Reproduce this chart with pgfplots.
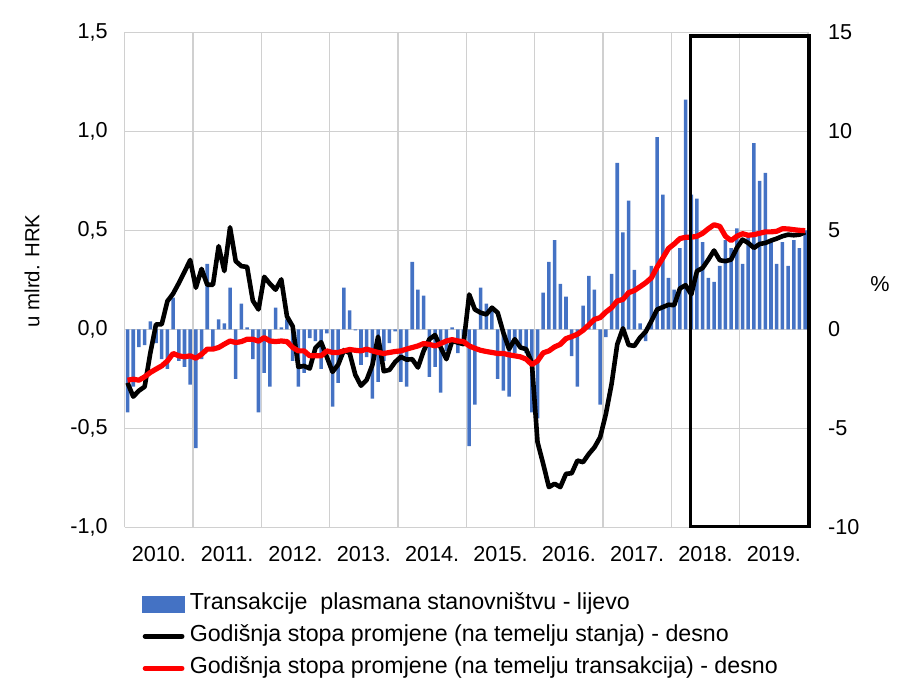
\documentclass[border=0pt]{standalone}
\usepackage{pgfplots}
\pgfplotsset{compat=1.18}
\usepackage{pgfplotstable}
\usepackage{fontspec}
\setmainfont{Liberation Sans}
\definecolor{barblue}{HTML}{4472C4}
\definecolor{gridgray}{HTML}{D0D0D0}
\definecolor{lred}{HTML}{FF0000}

\pgfplotstableread{
i bar black red
0 -0.42 -2.70 -2.57
1 -0.29 -3.40 -2.52
2 -0.09 -3.10 -2.57
3 -0.08 -2.90 -2.40
4 0.04 -1.20 -2.18
5 -0.07 0.25 -2.01
6 -0.15 0.25 -1.85
7 -0.20 1.42 -1.60
8 0.16 1.80 -1.22
9 -0.16 2.33 -1.34
10 -0.19 2.90 -1.39
11 -0.28 3.50 -1.34
12 -0.60 2.10 -1.46
13 -0.15 3.05 -1.26
14 0.33 2.25 -1.00
15 -0.09 2.25 -1.00
16 0.05 4.20 -0.92
17 0.03 2.94 -0.75
18 0.21 5.15 -0.59
19 -0.25 3.44 -0.67
20 0.13 3.19 -0.62
21 0.01 3.15 -0.50
22 -0.15 1.45 -0.50
23 -0.42 1.00 -0.60
24 -0.22 2.65 -0.42
25 -0.29 2.30 -0.59
26 0.11 2.00 -0.62
27 0.01 2.52 -0.59
28 0.05 0.65 -0.62
29 -0.16 0.15 -0.92
30 -0.29 -1.90 -1.09
31 -0.22 -1.85 -1.09
32 -0.045 -1.98 -1.34
33 -0.06 -0.94 -1.34
34 -0.20 -0.65 -1.34
35 -0.02 -1.40 -1.09
36 -0.39 -2.15 -1.17
37 -0.27 -1.78 -1.17
38 0.21 -1.05 -1.09
39 0.095 -1.20 -1.02
40 -0.005 -2.30 -1.06
41 -0.18 -2.85 -1.09
42 -0.14 -2.55 -1.00
43 -0.35 -1.80 -1.09
44 -0.265 -0.37 -1.17
45 -0.16 -2.12 -1.22
46 -0.07 -2.05 -1.17
47 -0.01 -1.65 -1.12
48 -0.265 -1.39 -1.09
49 -0.29 -1.53 -1.00
50 0.34 -1.51 -0.92
51 0.20 -1.93 -0.84
52 0.17 -1.09 -0.72
53 -0.24 -0.50 -0.76
54 -0.19 -0.29 -0.84
55 -0.32 -0.92 -0.72
56 -0.11 -1.51 -0.59
57 0.01 -0.59 -0.52
58 -0.12 -0.67 -0.59
59 -0.05 -0.75 -0.62
60 -0.59 1.76 -0.84
61 -0.38 1.00 -0.96
62 0.21 0.84 -1.06
63 0.13 0.75 -1.12
64 0.10 1.09 -1.17
65 -0.25 0.84 -1.22
66 -0.31 -0.17 -1.22
67 -0.34 -1.00 -1.29
68 -0.12 -0.50 -1.34
69 -0.09 -0.92 -1.39
70 -0.12 -1.00 -1.51
71 -0.42 -1.68 -1.78
72 -0.45 -5.70 -1.60
73 0.185 -6.80 -1.19
74 0.34 -7.97 -1.09
75 0.45 -7.80 -0.89
76 0.23 -7.97 -0.76
77 0.165 -7.30 -0.47
78 -0.135 -7.27 -0.37
79 -0.29 -6.63 -0.25
80 0.12 -6.71 -0.05
81 0.27 -6.30 0.22
82 0.20 -5.96 0.50
83 -0.38 -5.45 0.59
84 -0.04 -4.28 0.87
85 0.28 -2.77 1.09
86 0.84 -0.76 1.43
87 0.49 0.05 1.51
88 0.65 -0.79 1.85
89 0.30 -0.84 1.96
90 0.03 -0.42 2.15
91 -0.06 -0.12 2.35
92 0.32 0.42 2.60
93 0.97 1.00 3.14
94 0.68 1.12 3.60
95 0.26 1.24 4.08
96 0.20 1.22 4.31
97 0.41 2.06 4.58
98 1.16 2.23 4.65
99 0.68 1.76 4.65
100 0.66 2.94 4.70
101 0.44 3.10 4.85
102 0.26 3.52 5.08
103 0.24 3.98 5.28
104 0.32 3.49 5.20
105 0.45 3.44 4.70
106 0.41 3.52 4.48
107 0.51 4.11 4.70
108 0.33 4.53 4.83
109 0.47 4.36 4.75
110 0.94 4.11 4.78
111 0.75 4.31 4.85
112 0.79 4.36 4.92
113 0.44 4.48 4.92
114 0.33 4.58 4.95
115 0.44 4.70 5.08
116 0.32 4.78 5.07
117 0.45 4.75 5.03
118 0.41 4.78 5.00
119 0.50 4.90 4.98
}\data

\begin{document}
\begin{tikzpicture}[font=\fontsize{10.8}{13}\selectfont]
\path (-62.35pt,-79.35pt) rectangle (387.65pt,263.65pt);
\begin{axis}[
  scale only axis, width=341.65pt, height=247.5pt,
  at={(0,0)}, anchor=south west,
  xmin=-0.5, xmax=119.5, ymin=-1, ymax=1.5,
  axis line style={draw=none},
  major tick length=0pt, minor tick length=0pt,
  ytick={-1,-0.5,0,0.5,1,1.5},
  yticklabels={{-1,0},{-0,5},{0,0},{0,5},{1,0},{1,5}},
  xtick={5.5,17.5,...,113.5},
  xticklabels={2010.,2011.,2012.,2013.,2014.,2015.,2016.,2017.,2018.,2019.},
  minor xtick={-0.5,11.5,...,119.5},
  xminorgrids=true, ymajorgrids=true,
  grid style={gridgray, line width=0.8pt},
  minor grid style={gridgray, line width=0.8pt},
  yticklabel style={xshift=-5pt},
  xticklabel style={yshift=-6pt},
  ylabel={u mlrd. HRK},
  every axis y label/.style={at={(axis description cs:-0.1357,0.518)}, anchor=center, rotate=90, font=\fontsize{10.2}{12}\selectfont},
]
\addplot[ybar, bar width=0.62, fill=barblue, draw=none] table[x=i,y=bar]{\data};
\end{axis}
\begin{axis}[
  scale only axis, width=341.65pt, height=247.5pt,
  at={(0,0)}, anchor=south west,
  xmin=-0.5, xmax=119.5, ymin=-10, ymax=15,
  hide x axis,
  axis line style={draw=none},
  major tick length=0pt, minor tick length=0pt,
  yticklabel pos=right,
  ytick={-10,-5,0,5,10,15},
  yticklabels={-10,-5,0,5,10,15},
  yticklabel style={anchor=west, xshift=6.5pt},
  ylabel={\%},
  every axis y label/.style={at={(axis description cs:1.1054,0.492)}, anchor=center},
  clip=false,
  legend style={draw=none, fill=none, at={(axis description cs:0.0253,-0.1327)}, anchor=north west,
    inner sep=0pt, row sep=5.2pt, column sep=2.5pt, font=\fontsize{11.6}{13.5}\selectfont,
    nodes={inner sep=0pt, text height=8.3pt, text depth=2.5pt}},
  legend cell align=left,
]
\addlegendimage{legend image code/.code={\fill[barblue] (0pt,-3.9pt) rectangle (20.8pt,3.9pt);}}
\addlegendentry{Transakcije\ \ plasmana stanovništvu - lijevo}
\addplot[black, line width=2.3pt, line join=round,
  legend image code/.code={\draw[black, line width=2.5pt, line cap=round] (1.2pt,0pt) -- (19.6pt,0pt);}]
  table[x=i,y=black]{\data};
\addlegendentry{Godišnja stopa promjene (na temelju stanja) - desno}
\addplot[lred, line width=2.6pt, line join=round,
  legend image code/.code={\draw[lred, line width=2.5pt, line cap=round] (1.2pt,0pt) -- (19.6pt,0pt);}]
  table[x=i,y=red]{\data};
\addlegendentry{Godišnja stopa promjene (na temelju transakcija) - desno}
\addplot[black, line width=1.75pt, line join=miter, forget plot]
  coordinates {(98.85,-9.97)(98.85,14.81)(119.7,14.81)(119.7,-9.97)(98.85,-9.97)(98.85,14.81)};
\end{axis}
\end{tikzpicture}
\end{document}
